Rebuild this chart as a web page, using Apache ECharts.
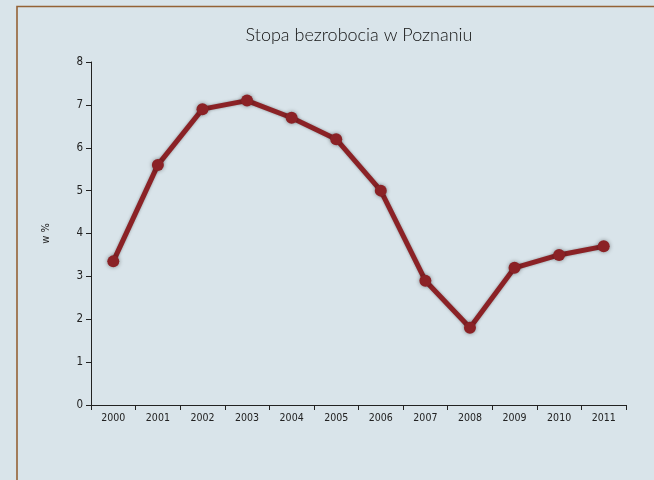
<!DOCTYPE html>
<html><head><meta charset="utf-8">
<script src="https://cdn.jsdelivr.net/npm/echarts@6/dist/echarts.min.js"></script>
<style>html,body{margin:0;padding:0;background:#d9e4ea;}#c{width:654px;height:480px;}</style>
</head><body><div id="c"></div>
<script>
var years = ['2000','2001','2002','2003','2004','2005','2006','2007','2008','2009','2010','2011'];
var rate = [3.35, 5.6, 6.9, 7.1, 6.7, 6.2, 5.0, 2.9, 1.8, 3.2, 3.5, 3.7];
var yTicks = {min: 0, max: 8, interval: 1};
var font = "'DejaVu Sans Condensed', 'Liberation Sans Narrow', sans-serif";
var chart = echarts.init(document.getElementById('c'));
chart.setOption({
  backgroundColor: '#d9e4ea',
  animation: false,
  title: {text: 'Stopa bezrobocia w Poznaniu', left: 354, top: 21, textAlign: 'center',
    textStyle: {fontFamily: 'Lato', fontWeight: 300, fontSize: 18, color: '#111'}},
  graphic: [{type: 'polyline', shape: {points: [[17, 480], [17, 6.5], [654, 6.5]]},
    style: {stroke: '#946236', lineWidth: 1.6, fill: null}}],
  grid: {left: 91, right: 28, top: 62, bottom: 75},
  xAxis: {type: 'category', data: years, boundaryGap: true,
    axisLine: {lineStyle: {color: '#222', width: 1}},
    axisTick: {show: true, length: 5, lineStyle: {color: '#222'}},
    axisLabel: {fontFamily: font, fontSize: 10.5, color: '#222', margin: 8}},
  yAxis: {type: 'value', min: yTicks.min, max: yTicks.max, interval: yTicks.interval,
    name: 'w %', nameLocation: 'middle', nameGap: 39, nameRotate: 90,
    nameTextStyle: {fontFamily: font, fontSize: 11, color: '#222'},
    axisLine: {show: true, lineStyle: {color: '#222', width: 1}},
    axisTick: {show: true, length: 5, lineStyle: {color: '#222'}},
    splitLine: {show: false},
    axisLabel: {fontFamily: font, fontSize: 11.5, color: '#222', margin: 8}},
  series: [{type: 'line', data: rate, symbol: 'circle', symbolSize: 12,
    lineStyle: {color: '#8b2226', width: 5, shadowColor: 'rgba(0,0,0,0.35)', shadowBlur: 3},
    itemStyle: {color: '#8b2226', shadowColor: 'rgba(0,0,0,0.4)', shadowBlur: 4}}]
});
</script></body></html>
